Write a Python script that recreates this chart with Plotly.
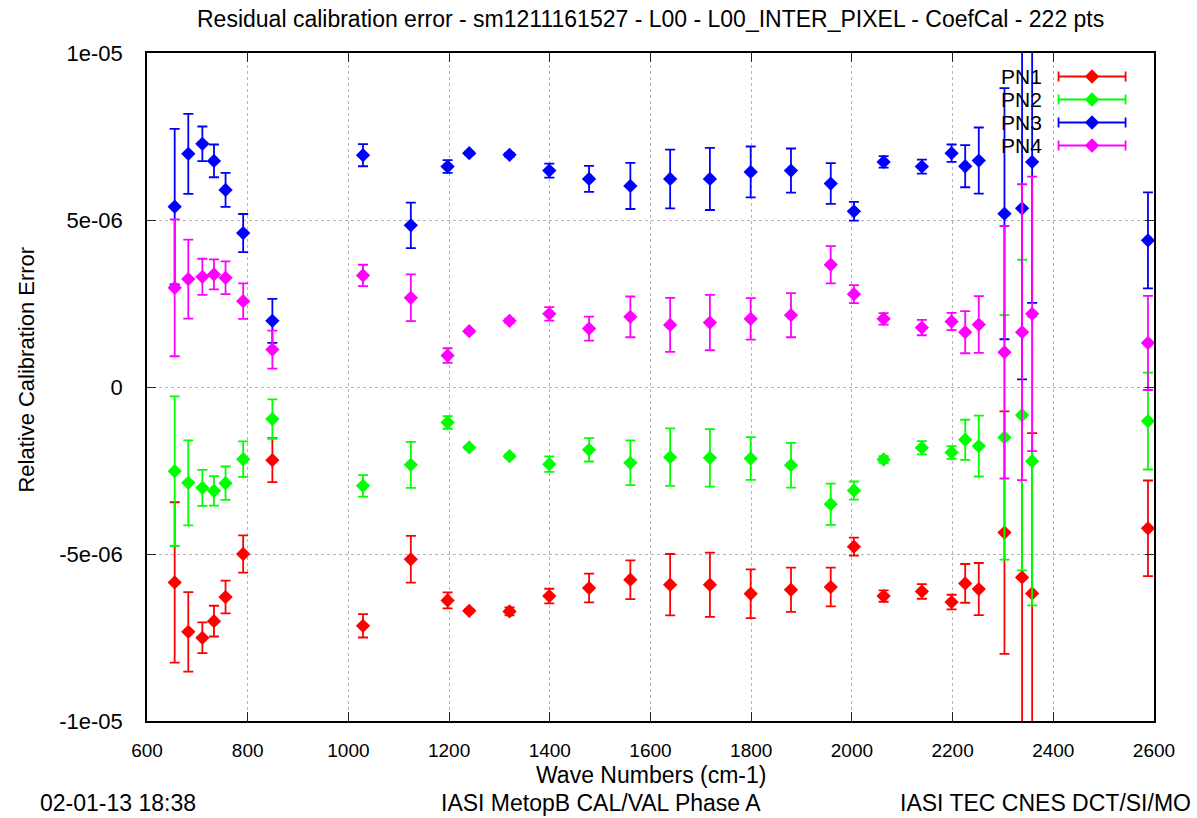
import numpy as np
import plotly.graph_objects as go

# ---------------- data (values in units of 1e-6) ----------------
wave_numbers = [655, 682, 710, 733, 756, 791, 849, 1029, 1124, 1197, 1240, 1320, 1399, 1478,
                1560, 1639, 1718, 1799, 1879, 1958, 2004, 2063, 2139, 2198, 2225, 2252,
                2303, 2338, 2358, 2588]

pn1 = [-5.85, -7.33, -7.51, -7.01, -6.29, -5.00, -2.19, -7.15, -5.16, -6.39, -6.70, -6.72, -6.26, -6.02,
       -5.77, -5.92, -5.92, -6.19, -6.07, -5.99, -4.78, -6.26, -6.12, -6.44, -5.88, -6.05,
       -4.36, -5.70, -6.18, -4.23]
pn1_err = [2.40, 1.19, 0.46, 0.46, 0.49, 0.56, 0.66, 0.35, 0.70, 0.24, 0.05, 0.12, 0.22, 0.43,
           0.58, 0.92, 0.96, 0.73, 0.66, 0.58, 0.27, 0.17, 0.22, 0.22, 0.58, 0.78,
           3.63, 4.80, 4.80, 1.43]

pn2 = [-2.52, -2.87, -3.02, -3.11, -2.88, -2.16, -0.96, -2.96, -2.33, -1.06, -1.81, -2.07, -2.31, -1.88,
       -2.27, -2.10, -2.12, -2.14, -2.34, -3.51, -3.10, -2.17, -1.82, -1.96, -1.58, -1.77,
       -1.51, -0.84, -2.22, -1.02]
pn2_err = [2.24, 1.27, 0.54, 0.44, 0.50, 0.53, 0.59, 0.32, 0.69, 0.19, 0.05, 0.06, 0.23, 0.35,
           0.67, 0.86, 0.86, 0.64, 0.67, 0.62, 0.27, 0.10, 0.20, 0.19, 0.60, 0.91,
           3.66, 4.65, 4.32, 1.45]

pn3 = [5.40, 6.98, 7.28, 6.77, 5.90, 4.61, 1.98, 6.94, 4.84, 6.60, 7.00, 6.95, 6.48, 6.23,
       6.02, 6.23, 6.23, 6.44, 6.48, 6.09, 5.26, 6.74, 6.60, 7.00, 6.61, 6.78,
       5.19, 5.35, 6.74, 4.39]
pn3_err = [2.33, 1.20, 0.52, 0.49, 0.51, 0.57, 0.66, 0.33, 0.68, 0.19, 0.05, 0.06, 0.21, 0.39,
           0.69, 0.88, 0.93, 0.76, 0.66, 0.61, 0.28, 0.17, 0.21, 0.26, 0.63, 0.99,
           3.76, 5.12, 4.22, 1.44]

pn4 = [2.97, 3.23, 3.30, 3.37, 3.27, 2.57, 1.12, 3.34, 2.67, 0.94, 1.67, 1.98, 2.19, 1.75,
       2.10, 1.86, 1.93, 2.04, 2.15, 3.66, 2.78, 2.04, 1.78, 1.96, 1.64, 1.87,
       1.04, 1.64, 2.19, 1.32]
pn4_err = [2.05, 1.18, 0.54, 0.45, 0.49, 0.53, 0.57, 0.32, 0.70, 0.22, 0.05, 0.07, 0.20, 0.36,
           0.61, 0.81, 0.83, 0.62, 0.66, 0.56, 0.27, 0.17, 0.23, 0.26, 0.63, 0.85,
           3.78, 4.43, 4.11, 1.41]

series_names = ["PN1", "PN2", "PN3", "PN4"]
series_colors = ["#ff0000", "#00ff00", "#0000ff", "#ff00ff"]

x_ticks = [600, 800, 1000, 1200, 1400, 1600, 1800, 2000, 2200, 2400, 2600]
y_tick_vals = [-1e-05, -5e-06, 0, 5e-06, 1e-05]
y_tick_text = ["-1e-05", "-5e-06", "0", "5e-06", "1e-05"]

title_text = "Residual calibration error - sm1211161527 - L00 - L00_INTER_PIXEL - CoefCal - 222 pts"
x_title = "Wave Numbers (cm-1)"
y_title = "Relative Calibration Error"
footer_left = "02-01-13 18:38"
footer_mid = "IASI MetopB CAL/VAL Phase A"
footer_right = "IASI TEC CNES DCT/SI/MO"

# ---------------- layout geometry ----------------
W, H = 1197, 818
L, R, T, B = 146.5, 1154.5, 53, 721
FONT = "Liberation Sans, Arial, sans-serif"


def px(xp):
    return (xp - L) / (R - L)


def py(yp):
    return (B - yp) / (B - T)


fig = go.Figure()

values = [pn1, pn2, pn3, pn4]
errors = [pn1_err, pn2_err, pn3_err, pn4_err]
for name, col, v, e in zip(series_names, series_colors, values, errors):
    fig.add_trace(go.Scatter(
        x=wave_numbers, y=np.array(v) * 1e-6, mode="markers", name=name,
        marker=dict(symbol="diamond", size=11, color=col, line=dict(width=0)),
        error_y=dict(type="data", array=np.array(e) * 1e-6, visible=True,
                     color=col, thickness=1.8, width=5),
        showlegend=False, hoverinfo="skip",
    ))

# legend samples (gnuplot style: |--<>--|) on a small overlay axis
for i, (name, col) in enumerate(zip(series_names, series_colors)):
    fig.add_trace(go.Scatter(
        x=[0], y=[3 - i], mode="markers", xaxis="x2", yaxis="y2",
        marker=dict(symbol="diamond", size=11, color=col),
        error_x=dict(type="data", array=[1], visible=True, color=col, thickness=1.8, width=5),
        showlegend=False, hoverinfo="skip",
    ))

axis_common = dict(
    showline=True, linecolor="black", linewidth=1.5, mirror="allticks",
    ticks="inside", ticklen=9, tickwidth=1.2, tickcolor="#222222",
    showgrid=True, gridcolor="#b4b4b4", gridwidth=1, griddash="dot",
    zeroline=False,
)

fig.update_layout(
    width=W, height=H,
    margin=dict(l=L, r=W - R, t=T, b=H - B, pad=0),
    paper_bgcolor="white", plot_bgcolor="white",
    showlegend=False,
    xaxis=dict(range=[600, 2600], tickvals=x_ticks, ticklabelstandoff=11,
               tickfont=dict(family=FONT, size=19, color="black"), **axis_common),
    yaxis=dict(range=[-1e-05, 1e-05], tickvals=y_tick_vals, ticktext=y_tick_text,
               ticklabelstandoff=18,
               tickfont=dict(family=FONT, size=22, color="black"), **axis_common),
    xaxis2=dict(domain=[px(1055.6), px(1129.4)], range=[-1.1, 1.1], visible=False,
                anchor="y2", fixedrange=True),
    yaxis2=dict(domain=[py(157), py(65)], range=[-0.5, 3.5], visible=False,
                anchor="x2", fixedrange=True),
)

ann = []
ann.append(dict(text=title_text, x=px(650.5), y=py(19), xref="paper", yref="paper",
                xanchor="center", yanchor="middle", showarrow=False,
                font=dict(family=FONT, size=23, color="black")))
ann.append(dict(text=x_title, x=px(650.5), y=py(775), xref="paper", yref="paper",
                xanchor="center", yanchor="middle", showarrow=False,
                font=dict(family=FONT, size=23, color="black")))
ann.append(dict(text=y_title, x=px(25), y=py(370), xref="paper", yref="paper",
                xanchor="center", yanchor="middle", showarrow=False, textangle=-90,
                font=dict(family=FONT, size=22, color="black")))
ann.append(dict(text=footer_left, x=px(37), y=py(803), xref="paper", yref="paper",
                xanchor="left", yanchor="middle", showarrow=False,
                font=dict(family=FONT, size=23, color="black")))
ann.append(dict(text=footer_mid, x=px(601), y=py(803), xref="paper", yref="paper",
                xanchor="center", yanchor="middle", showarrow=False,
                font=dict(family=FONT, size=23, color="black")))
ann.append(dict(text=footer_right, x=px(1194), y=py(803), xref="paper", yref="paper",
                xanchor="right", yanchor="middle", showarrow=False,
                font=dict(family=FONT, size=23, color="black")))
for i, name in enumerate(series_names):
    ann.append(dict(text=name, x=px(1044), y=py(76.5 + 23 * i), xref="paper", yref="paper",
                    xanchor="right", yanchor="middle", showarrow=False,
                    font=dict(family=FONT, size=21, color="black")))
fig.update_layout(annotations=ann)

fig.write_html("out.html")
